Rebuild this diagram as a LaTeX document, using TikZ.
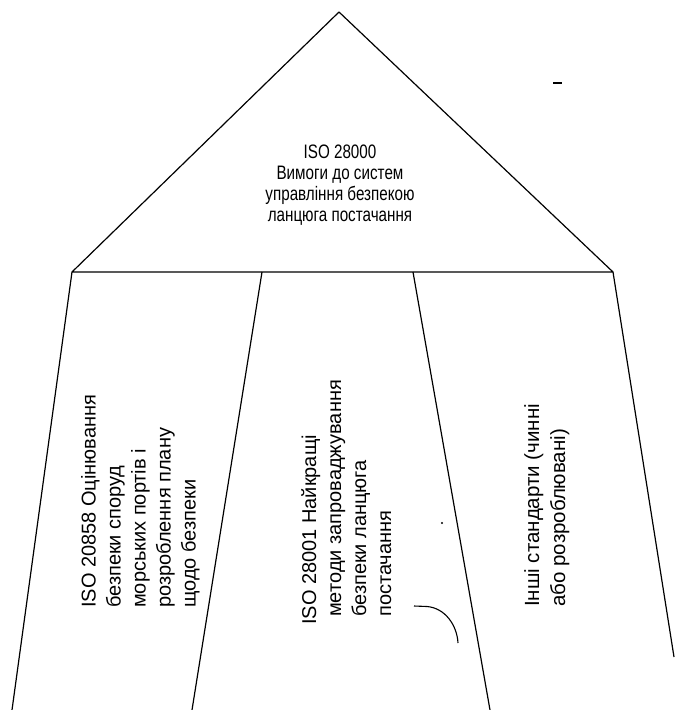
\documentclass[tikz,border=0pt]{standalone}
\usepackage{fontspec}
\setmainfont{Liberation Sans}
\newfontfamily\narrowfont{Liberation Sans}[FakeStretch=0.78]
\begin{document}
\begin{tikzpicture}[x=1pt,y=-1pt,
  edge/.style={line width=1.2pt,black},
  toptext/.style={align=center,inner sep=0pt,font=\narrowfont\fontsize{19.5}{20.7}\selectfont},
  coltext/.style={align=left,inner sep=0pt,rotate=90,anchor=north west,font=\fontsize{20}{25}\selectfont}]
\useasboundingbox[fill=white] (0,0) rectangle (675,710);
% corners
\coordinate (apex) at (339,12);
\coordinate (bl) at (72,272);
\coordinate (br) at (613,272);
\coordinate (m1) at (262,272);
\coordinate (m2) at (413,272);
\coordinate (e0) at (12,710);
\coordinate (e1) at (192,710);
\coordinate (e2) at (490,710);
\coordinate (e3) at (674,657);
% triangle
\draw[edge,line join=round] (bl) -- (apex) -- (br) -- cycle;
% column borders
\draw[edge] (bl) -- (e0);
\draw[edge] (m1) -- (e1);
\draw[edge] (m2) -- (e2);
\draw[edge] (br) -- (e3);
% texts
\node[toptext,anchor=base] (top) at (340,221) {ISO 28000\\Вимоги до систем\\управління безпекою\\ланцюга постачання};
\node[coltext] (c1) at (81,608) {ISO 20858 Оцінювання\\безпеки споруд\\морських портів і\\розроблення плану\\щодо безпеки};
\node[coltext] (c2) at (301,617) {\hspace*{-8pt}ISO 28001 Найкращі\\методи запроваджування\\безпеки ланцюга\\постачання};
\node[coltext,font=\fontsize{20.5}{26}\selectfont] (c3) at (524,607) {Інші стандарти (чинні\\або розроблювані)};
% stray marks
\coordinate (d1) at (553,83);
\coordinate (d2) at (562,83);
\draw[line width=1.3pt] (d1) -- (d2);
\coordinate (dot) at (442,523);
\fill (dot) circle (1.2);
\coordinate (a0) at (414,606);
\coordinate (a1) at (427,606.5);
\coordinate (a2) at (458,643);
\draw[line width=1.1pt] (a0) -- (a1) .. controls (445,608) and (457,625) .. (a2);
\end{tikzpicture}
\end{document}
